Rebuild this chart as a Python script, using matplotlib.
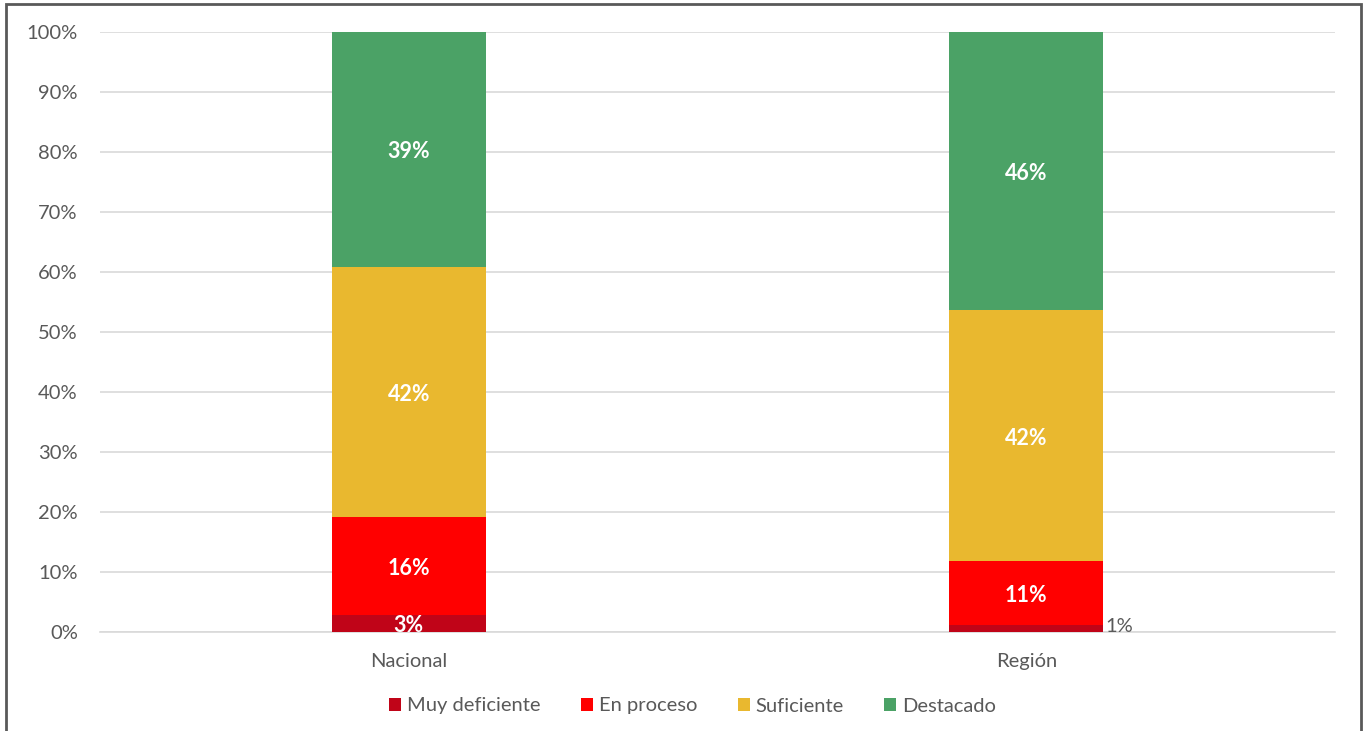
import numpy as np
import matplotlib
matplotlib.use('Agg')
import matplotlib.pyplot as plt
from matplotlib.patches import Rectangle

plt.rcParams['font.family'] = ['Lato', 'DejaVu Sans']

# Data (percent)
categories = ['Nacional', 'Región']
series_names = ['Muy deficiente', 'En proceso', 'Suficiente', 'Destacado']
muy_deficiente = [2.8, 1.2]
en_proceso = [16.4, 10.6]
suficiente = [41.7, 41.8]
destacado = [39.1, 46.4]
colors = ['#c00418', '#ff0000', '#e9b82f', '#4ba266']

series = [muy_deficiente, en_proceso, suficiente, destacado]

fig = plt.figure(figsize=(13.65, 7.31), dpi=100)
ax = fig.add_axes([100 / 1365, 1 - 632 / 731, 1235 / 1365, 600 / 731])

x = np.arange(len(categories))
bottom = np.zeros(len(categories))
for name, vals, col in zip(series_names, series, colors):
    vals = np.array(vals)
    ax.bar(x, vals, 0.25, bottom=bottom, color=col, label=name, zorder=3)
    for i in range(len(categories)):
        if vals[i] >= 2:
            ax.text(x[i], bottom[i] + vals[i] / 2 - 0.4, f'{vals[i]:.0f}%', ha='center', va='center',
                    color='white', fontsize=15.5, fontweight='bold', zorder=4)
        else:
            # small segment: label outside, to the right
            ax.text(x[i] + 0.128, bottom[i] + vals[i] / 2 + 0.3, f'{vals[i]:.0f}%', ha='left', va='center',
                    color='#595959', fontsize=14.5, zorder=4)
    bottom += vals

ax.set_xlim(-0.5, 1.5)
ax.set_ylim(0, 100)
ax.set_yticks(np.arange(0, 101, 10))
ax.set_yticklabels([f'{v}%' for v in range(0, 101, 10)])
ax.set_xticks(x)
ax.set_xticklabels(categories)
ax.tick_params(axis='both', length=0, labelsize=14.5, colors='#595959')
ax.tick_params(axis='x', pad=15)
ax.tick_params(axis='y', pad=16)
ax.grid(axis='y', color='#d9d9d9', linewidth=1.2, zorder=0)
for s in ['top', 'right', 'left']:
    ax.spines[s].set_visible(False)
ax.spines['bottom'].set_color('#d9d9d9')
ax.spines['bottom'].set_linewidth(1.2)

leg = fig.legend(loc='center', bbox_to_anchor=(0.5 + 10 / 1365, 1 - 706 / 731), ncol=4, frameon=False,
                 fontsize=14.5, handlelength=0.6, handleheight=0.6, handletextpad=0.3,
                 columnspacing=2.0)
for t in leg.get_texts():
    t.set_color('#595959')

# outer chart frame (bottom edge is cut off in the original)
fig.patches.append(Rectangle((6 / 1365, -0.05), 1355 / 1365, 1.05 - 4 / 731, transform=fig.transFigure,
                             fill=False, edgecolor='#595959', linewidth=2))

fig.savefig('out.png', dpi=100)
